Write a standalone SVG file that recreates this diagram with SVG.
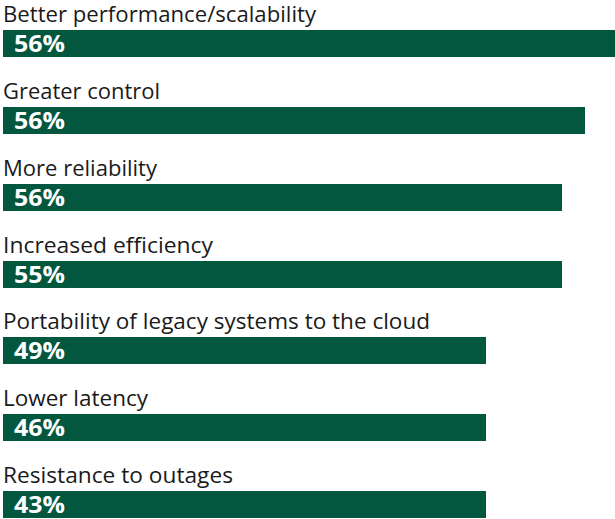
<svg xmlns="http://www.w3.org/2000/svg" width="615" height="519" viewBox="0 0 615 519">
<style>
.bar{fill:#03573F}
.lbl{font-family:"Open Sans","Liberation Sans",sans-serif;font-size:21px;fill:#1a1a1a}
.pct{font-family:"Open Sans","Liberation Sans",sans-serif;font-size:23px;font-weight:700;fill:#ffffff}
</style>
<rect width="615" height="519" fill="#ffffff"/>
<g id="row1"><text class="lbl" x="3" y="22" textLength="313" lengthAdjust="spacingAndGlyphs">Better performance/scalability</text><rect class="bar" x="3" y="30" width="612" height="27"/><text class="pct" x="14" y="52" textLength="51" lengthAdjust="spacingAndGlyphs">56%</text></g>
<g id="row2"><text class="lbl" x="3" y="99" textLength="157" lengthAdjust="spacingAndGlyphs">Greater control</text><rect class="bar" x="3" y="107" width="582" height="27"/><text class="pct" x="14" y="129" textLength="51" lengthAdjust="spacingAndGlyphs">56%</text></g>
<g id="row3"><text class="lbl" x="3" y="176" textLength="154" lengthAdjust="spacingAndGlyphs">More reliability</text><rect class="bar" x="3" y="184" width="559" height="27"/><text class="pct" x="14" y="206" textLength="51" lengthAdjust="spacingAndGlyphs">56%</text></g>
<g id="row4"><text class="lbl" x="3" y="253" textLength="210" lengthAdjust="spacingAndGlyphs">Increased efficiency</text><rect class="bar" x="3" y="261" width="559" height="27"/><text class="pct" x="14" y="283" textLength="51" lengthAdjust="spacingAndGlyphs">55%</text></g>
<g id="row5"><text class="lbl" x="3" y="329" textLength="427" lengthAdjust="spacingAndGlyphs">Portability of legacy systems to the cloud</text><rect class="bar" x="3" y="337" width="483" height="27"/><text class="pct" x="14" y="359" textLength="51" lengthAdjust="spacingAndGlyphs">49%</text></g>
<g id="row6"><text class="lbl" x="3" y="406" textLength="145" lengthAdjust="spacingAndGlyphs">Lower latency</text><rect class="bar" x="3" y="414" width="483" height="27"/><text class="pct" x="14" y="436" textLength="51" lengthAdjust="spacingAndGlyphs">46%</text></g>
<g id="row7"><text class="lbl" x="3" y="483" textLength="230" lengthAdjust="spacingAndGlyphs">Resistance to outages</text><rect class="bar" x="3" y="491" width="483" height="27"/><text class="pct" x="14" y="513" textLength="51" lengthAdjust="spacingAndGlyphs">43%</text></g>
</svg>
